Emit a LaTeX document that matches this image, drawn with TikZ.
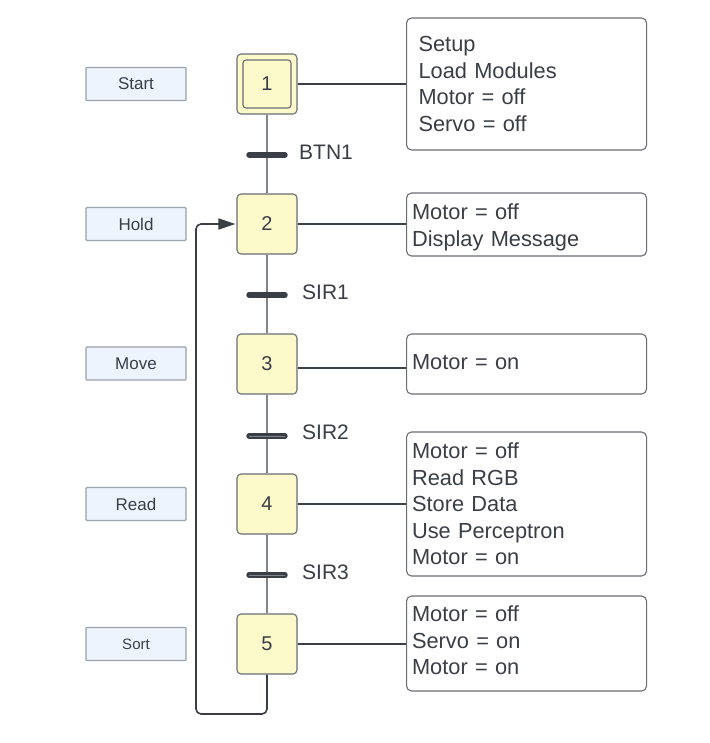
\documentclass[tikz,border=0pt]{standalone}
\usepackage{fontspec}
\setmainfont{Liberation Sans}
\usetikzlibrary{arrows.meta}
\definecolor{txt}{HTML}{3A3F47}
\definecolor{stepfill}{HTML}{FCF9CB}
\definecolor{stepline}{HTML}{6A6E75}
\definecolor{vline}{HTML}{80848B}
\definecolor{lblfill}{HTML}{EDF4FE}
\definecolor{lblline}{HTML}{9CA2AA}
\definecolor{boxline}{HTML}{6A6E75}
\tikzset{
  stepbox/.style={draw=stepline, fill=stepfill, line width=1.1pt, rounded corners=4pt,
    minimum width=60pt, minimum height=60pt, inner sep=0pt, text=txt,
    font=\fontsize{20}{24}\selectfont},
  innerbox/.style={draw=stepline, line width=1.1pt, rounded corners=3pt,
    minimum width=48pt, minimum height=48pt, inner sep=0pt, text=txt,
    font=\fontsize{20}{24}\selectfont},
  lblbox/.style={draw=lblline, fill=lblfill, line width=1.1pt, rounded corners=1pt,
    minimum width=100pt, minimum height=33pt, inner sep=0pt, text=txt,
    font=\fontsize{17}{20}\selectfont},
  actbox/.style={draw=boxline, line width=1.1pt, rounded corners=5pt, align=left,
    text=txt, inner ysep=4pt, font=\fontsize{21.8}{26.6}\selectfont, anchor=west},
  vlink/.style={draw=vline, line width=1.6pt},
  hlink/.style={draw=txt, line width=1.6pt},
  barline/.style={draw=txt, line width=5.4pt, line cap=round},
  barinner/.style={draw=vline, line width=0.7pt},
  tlabel/.style={text=txt, anchor=west, inner sep=0pt, font=\fontsize{21}{24}\selectfont},
}
\begin{document}
\begin{tikzpicture}[x=1pt, y=-1pt]
\useasboundingbox (0,0) rectangle (709,743);
\fill[white] (0,0) rectangle (709,743);

% labels on the left
\node[lblbox] (lstart) at (136,84) {Start};
\node[lblbox] (lhold) at (136,224) {Hold};
\node[lblbox] (lmove) at (136,363.5) {Move};
\node[lblbox] (lread) at (136,504) {Read};
\node[lblbox, font=\fontsize{15}{18}\selectfont] (lsort) at (136,644) {Sort};

% steps
\node[stepbox] (s1) at (267,84) {};
\node[innerbox] (s1i) at (267,84) {1};
\node[stepbox] (s2) at (267,224) {2};
\node[stepbox] (s3) at (267,364) {3};
\node[stepbox] (s4) at (267,504) {4};
\node[stepbox] (s5) at (267,644) {5};

% vertical links
\draw[vlink] (s1.south) -- (s2.north);
\draw[vlink] (s2.south) -- (s3.north);
\draw[vlink] (s3.south) -- (s4.north);
\draw[vlink] (s4.south) -- (s5.north);

% transitions
\coordinate (t1) at (267,155);
\coordinate (t2) at (267,295);
\coordinate (t3) at (267,436);
\coordinate (t4) at (267,575);
\draw[barline] ([xshift=-18pt]t1) -- ([xshift=18pt]t1);
\draw[barline] ([xshift=-18pt]t2) -- ([xshift=18pt]t2);
\draw[barline] ([xshift=-18pt]t3) -- ([xshift=18pt]t3);
\draw[barinner] ([xshift=-18pt]t3) -- ([xshift=18pt]t3);
\draw[barline] ([xshift=-18pt]t4) -- ([xshift=18pt]t4);
\draw[barinner] ([xshift=-18pt]t4) -- ([xshift=18pt]t4);
\node[tlabel] (b1) at (299,152) {BTN1};
\node[tlabel] (b2) at (302,292) {SIR1};
\node[tlabel] (b3) at (302,432) {SIR2};
\node[tlabel] (b4) at (302,572) {SIR3};

% action boxes
\node[actbox, inner xsep=12pt, text width=216pt, minimum height=132pt] (a1) at (406,84)
  {Setup\\Load Modules\\Motor = off\\Servo = off};
\node[actbox, inner xsep=5.5pt, text width=229pt, minimum height=63pt] (a2) at (406,224.5)
  {\rule{0pt}{22pt}Motor = off\\Display Message};
\node[actbox, inner xsep=5.5pt, text width=229pt, minimum height=60pt] (a3) at (406,364)
  {Motor = on\rule[-4pt]{0pt}{4pt}};
\node[actbox, inner xsep=5.5pt, text width=229pt, minimum height=144pt] (a4) at (406,504)
  {Motor = off\\Read RGB\\Store Data\\Use Perceptron\\Motor = on};
\node[actbox, inner xsep=5.5pt, text width=229pt, minimum height=95pt] (a5) at (406,643.5)
  {Motor = off\\Servo = on\\Motor = on\rule[-6pt]{0pt}{6pt}};

% connectors to action boxes
\draw[hlink] (s1.east) -- (s1.east -| a1.west);
\draw[hlink] (s2.east) -- (s2.east -| a2.west);
\draw[hlink] ([yshift=-4pt]s3.east) -- ([yshift=-4pt]s3.east -| a3.west);
\draw[hlink] (s4.east) -- (s4.east -| a4.west);
\draw[hlink] (s5.east) -- (s5.east -| a5.west);

% loop back
\coordinate (loopA) at (196,714);
\draw[hlink, rounded corners=5pt, -{Triangle[length=17pt,width=11pt]}, shorten >=1pt]
  (s5.south) |- (loopA) |- (s2.west);
\end{tikzpicture}
\end{document}
